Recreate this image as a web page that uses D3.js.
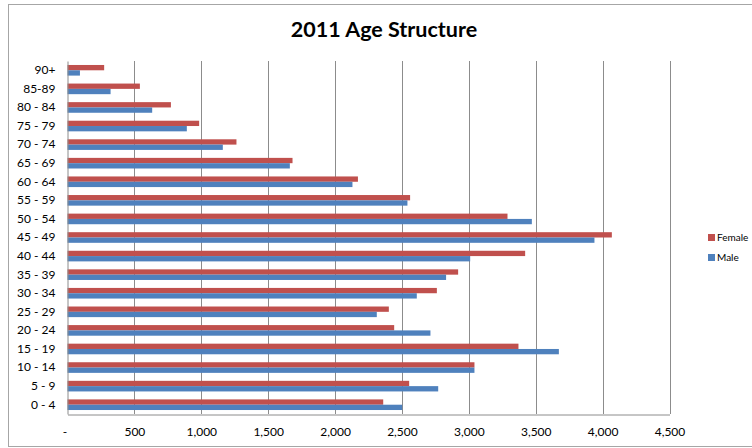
<!DOCTYPE html>
<html><head><meta charset="utf-8">
<script src="https://cdn.jsdelivr.net/npm/d3@7"></script>
<style>body{margin:0;background:#fff}svg{display:block}</style>
</head><body>
<svg id="c" width="752" height="448"></svg>
<script>
const categories = ["0 - 4","5 - 9","10 - 14","15 - 19","20 - 24","25 - 29","30 - 34","35 - 39","40 - 44","45 - 49","50 - 54","55 - 59","60 - 64","65 - 69","70 - 74","75 - 79","80 - 84","85-89","90+"];
const female = [2360,2554,3042,3371,2442,2402,2761,2920,3421,4069,3289,2561,2171,1682,1263,984,773,541,274];
const male = [2502,2771,3042,3673,2713,2312,2611,2830,3010,3939,3471,2541,2130,1662,1161,892,633,322,93];
const seriesNames = ["Female","Male"];
const seriesColors = ["#C0504D","#4F81BD"];
const xTicks = [0,500,1000,1500,2000,2500,3000,3500,4000,4500];
const title = "2011 Age Structure";

const svg = d3.select("#c");
const font = "Lato, 'Open Sans', sans-serif";
const L = 67.5, R = 669.5, T = 61, B = 414;

// outer border
svg.append("rect").attr("x",8.5).attr("y",4.5).attr("width",800).attr("height",442)
  .attr("fill","none").attr("stroke","#a6a6a6").attr("stroke-width",1);

const x = d3.scaleLinear().domain([0,4500]).range([L,R]);
const y = d3.scaleBand().domain(categories.slice().reverse()).range([T,B])
  .paddingInner(1.5/3.5).paddingOuter(0.75/3.5);
const ys = d3.scaleBand().domain(seriesNames).range([0,y.bandwidth()]);

// gridlines
svg.append("g").selectAll("line").data(xTicks.slice(1)).join("line")
  .attr("x1",d=>Math.round(x(d))+0.5).attr("x2",d=>Math.round(x(d))+0.5)
  .attr("y1",T).attr("y2",B).attr("stroke","#8c8c8c").attr("stroke-width",1);

// bars
const rows = categories.map((c,i)=>({c, vals:[female[i], male[i]]}));
const g = svg.append("g");
rows.forEach(r=>{
  seriesNames.forEach((s,j)=>{
    g.append("rect")
      .attr("x",x(0)).attr("y",y(r.c)+ys(s))
      .attr("width",x(r.vals[j])-x(0)).attr("height",ys.bandwidth())
      .attr("fill",seriesColors[j]);
  });
});

// axes
const xAxis = d3.axisBottom(x).tickValues(xTicks).tickSize(0).tickPadding(13)
  .tickFormat(d=> d===0 ? "-" : d3.format(",")(d));
const ax = svg.append("g").attr("transform",`translate(0,${B+0.5})`).call(xAxis);
ax.select(".domain").attr("stroke","#8c8c8c");
ax.selectAll("text").attr("font-family",font).attr("font-size",12).attr("fill","#000");
ax.selectAll(".tick").filter(d=>d===0).select("text").attr("dx",-3);

const yAxis = d3.axisLeft(y).tickSize(0).tickPadding(12);
const ay = svg.append("g").attr("transform",`translate(${L},0)`).call(yAxis);
ay.select(".domain").attr("stroke","#8c8c8c");
ay.selectAll("text").attr("font-family",font).attr("font-size",12).attr("fill","#000");

// title
svg.append("text").attr("x",384).attr("y",37).attr("text-anchor","middle")
  .attr("font-family",font).attr("font-weight","bold").attr("font-size",21.5)
  .attr("fill","#000").text(title);

// legend
const lg = svg.append("g");
seriesNames.forEach((s,j)=>{
  lg.append("rect").attr("x",708).attr("y",234+j*20).attr("width",7).attr("height",7).attr("fill",seriesColors[j]);
  lg.append("text").attr("x",717).attr("y",241+j*20).attr("font-family",font)
    .attr("font-size",10).attr("fill","#000").text(s);
});
</script>
</body></html>
